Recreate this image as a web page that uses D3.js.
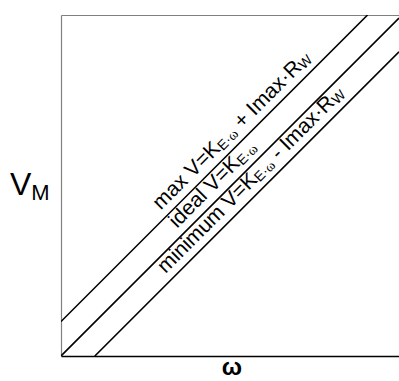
<!DOCTYPE html>
<meta charset="utf-8">
<script src="https://d3js.org/d3.v7.min.js"></script>
<style>
body { margin: 0; background: #fff; }
text { font-family: "Liberation Sans", Arial, sans-serif; }
</style>
<div id="chart"></div>
<script>
// axis ranges (arbitrary units, the sketch has no ticks)
var omegaDomain = [0, 10];
var vDomain = [0, 10.09];

// the three voltage lines, as [omega, V] end points
var maxLine = [[0, 1.02], [9.07, 10.09]];
var idealLine = [[0, 0], [10, 10]];
var minLine = [[1.0, 0], [10, 9.0]];
var lines = [maxLine, idealLine, minLine];

// omega at which each label starts
var labelAt = [3.12, 3.6, 3.26];

// label text, split into pieces: "" = normal, "s" = subscript, "w" = small omega
var maxLabel = [["max V=K", ""], ["E", "s"], ["·", "s"], ["ω", "w"], [" + Imax·R", ""], ["W", "s"]];
var idealLabel = [["ideal V=K", ""], ["E", "s"], ["·", "s"], ["ω", "w"]];
var minLabel = [["minimum V=K", ""], ["E", "s"], ["·", "s"], ["ω", "w"], [" - Imax·R", ""], ["W", "s"]];
var labels = [maxLabel, idealLabel, minLabel];

var margin = {top: 15, right: 0, bottom: 25, left: 61},
    width = 399 - margin.left - margin.right,
    height = 381 - margin.top - margin.bottom;

var svg = d3.select("#chart")
  .append("svg")
    .attr("width", 399)
    .attr("height", 381)
  .append("g")
    .attr("transform", "translate(" + margin.left + "," + margin.top + ")");

var x = d3.scaleLinear().domain(omegaDomain).range([0, width]);
var y = d3.scaleLinear().domain(vDomain).range([height, 0]);

// frame: grey left and top, black bottom
svg.append("g")
  .call(d3.axisLeft(y).tickValues([]).tickSizeOuter(0))
  .select(".domain").attr("stroke", "#808080").attr("stroke-width", 1.2);
svg.append("g")
  .call(d3.axisTop(x).tickValues([]).tickSizeOuter(0))
  .select(".domain").attr("stroke", "#808080").attr("stroke-width", 1.2);
svg.append("g")
  .attr("transform", "translate(0," + height + ")")
  .call(d3.axisBottom(x).tickValues([]).tickSizeOuter(0))
  .select(".domain").attr("stroke", "#000").attr("stroke-width", 1.7);

svg.append("clipPath").attr("id", "clip")
  .append("rect").attr("width", width).attr("height", height);

var line = d3.line()
  .x(function(d) { return x(d[0]); })
  .y(function(d) { return y(d[1]); });

svg.append("g").attr("clip-path", "url(#clip)")
  .selectAll("path")
  .data(lines)
  .enter()
  .append("path")
    .attr("d", line)
    .attr("fill", "none")
    .attr("stroke", "#000")
    .attr("stroke-width", 1.6);

// labels running along the lines
labels.forEach(function(parts, i) {
  var l = lines[i];
  var vAt = d3.scaleLinear().domain([l[0][0], l[1][0]]).range([l[0][1], l[1][1]]);
  var w = labelAt[i];
  var t = svg.append("text")
    .attr("transform", "translate(" + x(w) + "," + y(vAt(w)) + ") rotate(-45)")
    .attr("y", -8)
    .attr("font-size", 21)
    .attr("fill", "#000");
  var shift = 0;
  parts.forEach(function(p) {
    var small = p[1] !== "";
    var want = small ? 2 : 0;
    var ts = t.append("tspan")
      .attr("dy", want - shift)
      .attr("font-size", small ? 14 : 21)
      .text(p[0]);
    if (p[1] === "w") ts.attr("font-family", "'Liberation Serif', serif");
    shift = want;
  });
});

// axis names
var vm = svg.append("text")
  .attr("x", -51)
  .attr("y", 180)
  .attr("font-size", 32);
vm.append("tspan").text("V");
vm.append("tspan").attr("font-size", 22).attr("dy", 5).text("M");

svg.append("text")
  .attr("x", width / 2 + 2)
  .attr("y", 360)
  .attr("text-anchor", "middle")
  .attr("font-size", 24)
  .attr("font-weight", "bold")
  .attr("font-family", "'Liberation Serif', serif")
  .text("ω");
</script>
